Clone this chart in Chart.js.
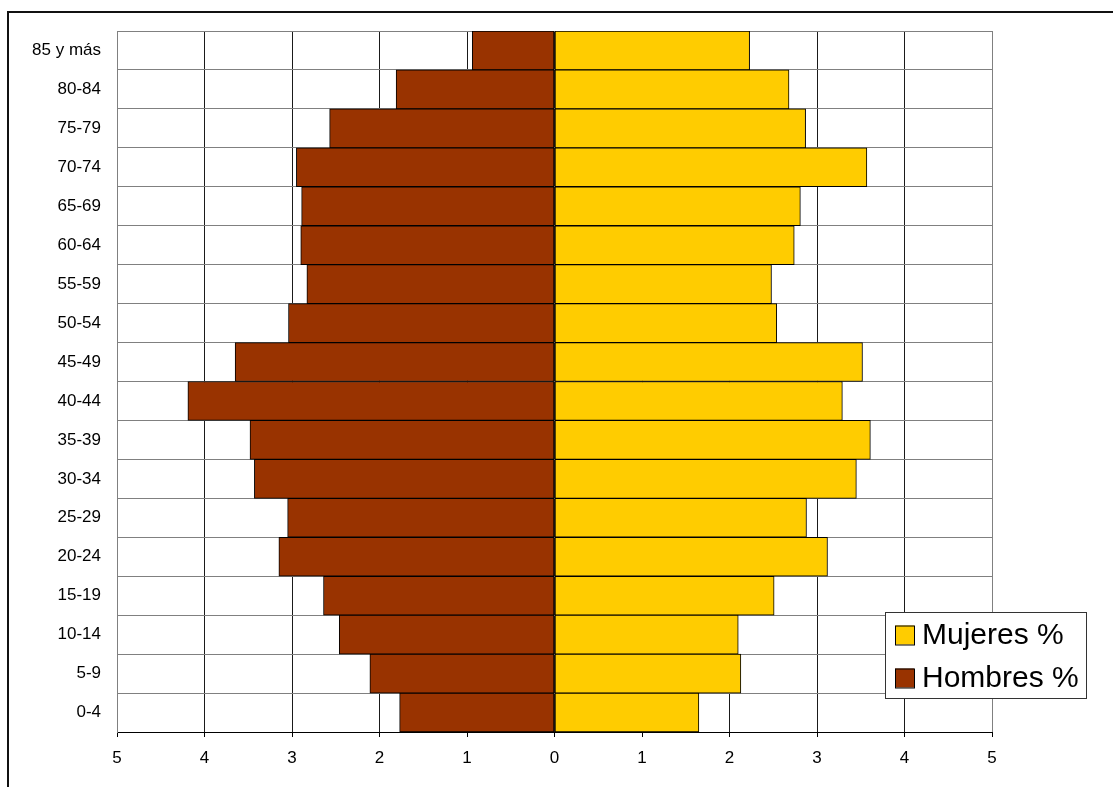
<!DOCTYPE html>
<html>
<head>
<meta charset="utf-8">
<script src="https://cdn.jsdelivr.net/npm/chart.js@4"></script>
<style>
  html, body { margin: 0; padding: 0; background: #fff; overflow: hidden; }
  #frame { position: absolute; left: 7px; top: 11px; width: 2000px; height: 2000px;
           border-left: 2px solid #111; border-top: 2px solid #111; }
  #c { position: absolute; left: 0; top: 0; }
</style>
</head>
<body>
<div id="frame"></div>
<canvas id="c" width="1113" height="787"></canvas>
<script>
const categories = ["85 y más","80-84","75-79","70-74","65-69","60-64","55-59","50-54","45-49",
                    "40-44","35-39","30-34","25-29","20-24","15-19","10-14","5-9","0-4"];
const hombres = [0.94,1.81,2.57,2.95,2.89,2.90,2.83,3.04,3.65,4.19,3.48,3.43,3.05,3.15,2.64,2.46,2.11,1.77];
const mujeres = [2.23,2.68,2.87,3.57,2.81,2.74,2.48,2.54,3.52,3.29,3.61,3.45,2.88,3.12,2.51,2.10,2.13,1.65];
const seriesLabels = ["Mujeres %", "Hombres %"];
const xMin = -5, xMax = 5, xStep = 1;

Chart.defaults.font.family = "'Liberation Sans', Arial, sans-serif";
Chart.defaults.font.size = 17;
Chart.defaults.color = '#000';

const legendPlugin = {
  id: 'boxLegend',
  afterDraw(chart) {
    const ctx = chart.ctx;
    const x0 = 885, y0 = 612, w = 201, h = 86;
    ctx.save();
    ctx.fillStyle = '#fff';
    ctx.fillRect(x0, y0, w, h);
    ctx.strokeStyle = '#333';
    ctx.lineWidth = 1;
    ctx.strokeRect(x0 + 0.5, y0 + 0.5, w, h);
    ctx.font = "30px 'Liberation Sans', Arial, sans-serif";
    ctx.textBaseline = 'middle';
    chart.data.datasets.forEach((ds, i) => {
      const cy = y0 + 23 + i * 43;
      ctx.fillStyle = ds.backgroundColor;
      ctx.fillRect(895, cy - 9.5, 19, 19);
      ctx.strokeStyle = '#000';
      ctx.strokeRect(895.5, cy - 9, 19, 19);
      ctx.fillStyle = '#000';
      ctx.fillText(ds.label, 922, cy + 1);
    });
    ctx.restore();
  }
};

new Chart(document.getElementById('c'), {
  type: 'bar',
  data: {
    labels: categories,
    datasets: [
      { label: seriesLabels[0], data: mujeres, backgroundColor: '#FFCC00',
        borderColor: '#000', borderWidth: 1, borderSkipped: false },
      { label: seriesLabels[1], data: hombres.map(v => -v), backgroundColor: '#993300',
        borderColor: '#000', borderWidth: 1, borderSkipped: false }
    ]
  },
  options: {
    indexAxis: 'y',
    responsive: false,
    animation: false,
    devicePixelRatio: 1,
    layout: { padding: { top: 31, right: 121, bottom: 0, left: 0 } },
    datasets: { bar: { barPercentage: 1, categoryPercentage: 1 } },
    plugins: { legend: { display: false }, tooltip: { enabled: false } },
    scales: {
      x: {
        type: 'linear', stacked: true, min: xMin, max: xMax,
        ticks: { stepSize: xStep, padding: 11, callback: v => Math.abs(v), maxRotation: 0 },
        grid: {
          color: c => (Math.abs(c.tick ? c.tick.value : 0) === 5 ? '#808080' : '#1a1a1a'),
          tickColor: '#000', tickLength: 5, lineWidth: 1
        },
        border: { display: true, color: '#000', width: 1 },
        afterFit: s => { s.height = 55; }
      },
      y: {
        stacked: true,
        ticks: { padding: 16 },
        grid: { color: '#808080', offset: true, tickLength: 0, lineWidth: 1 },
        border: { display: true, color: '#808080', width: 1 },
        afterFit: s => { s.width = 117; }
      }
    }
  },
  plugins: [legendPlugin]
});
</script>
</body>
</html>
